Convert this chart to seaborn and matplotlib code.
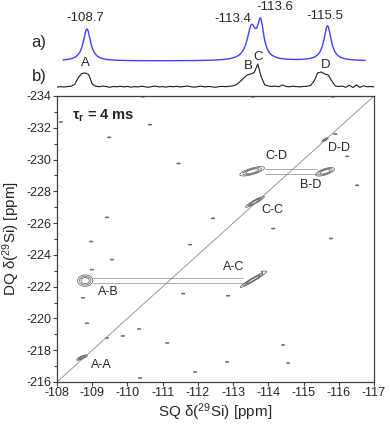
import numpy as np
import matplotlib
matplotlib.use("Agg")
import matplotlib.pyplot as plt
from matplotlib.ticker import MultipleLocator
import seaborn as sns

# 1D 29Si spectrum a) - peak positions [ppm], heights and widths
a_labels = ["-108.7", "-113.4", "-113.6", "-115.5"]
a_pos = [-108.85, -113.52, -113.78, -115.68]
a_height = [32, 31, 35, 35]
a_fwhm = [0.25, 0.30, 0.22, 0.25]

# 1D spectrum b) - trace read every 0.1 ppm from -107.9 to -117.0
b_trace = [0.3, -0.2, 0.4, 0.0, 0.5, 0.8, 2.5, 9.0, 13.5, 14.0,
           12.5, 3.0, 0.8, 0.3, 0.9, 0.4, -0.3, 0.5, 0.2, 0.7,
           0.1, 0.6, -0.2, 0.4, 0.0, 0.8, 0.2, -0.3, 0.5, 0.9,
           0.1, 0.4, -0.1, 0.6, 0.2, 0.7, 0.0, 0.5, 1.0, 0.3,
           -0.2, 0.4, 0.8, 0.1, 0.5, 0.2, -0.3, 0.4, 0.6, 0.3,
           0.8, 1.2, 2.5, 5.5, 9.0, 12.0, 13.0, 14.5, 23.0, 10.0,
           2.0, 1.0, 0.6, 0.9, 0.3, 2.0, 0.6, 0.2, 0.9, 0.4,
           0.1, 0.6, 0.8, 1.5, 6.0, 14.0, 15.0, 13.0, 12.0, 6.0,
           1.0, 0.5, 0.9, -0.3, 1.8, -0.5, 2.0, -0.4, 1.2, 0.2,
           0.5, 0.1]
b_letters = ["A", "B", "C", "D"]

# 2D DQ-SQ correlation peaks
cross_labels = ["A-A", "A-B", "A-C", "C-C", "C-D", "B-D", "D-D"]
cross_sq = [-108.71, -108.80, -113.57, -113.62, -113.54, -115.61, -115.61]
cross_dq = [-217.54, -222.38, -222.45, -227.34, -229.26, -229.23, -231.25]
cross_amp = [0.8, 1.0, 1.0, 1.0, 1.0, 1.0, 0.6]
cross_wsq = [0.08, 0.105, 0.18, 0.13, 0.17, 0.13, 0.05]
cross_wdq = [0.05, 0.175, 0.06, 0.06, 0.10, 0.10, 0.04]
cross_slope = [0.93, 0.0, 1.3, 1.2, 0.6, 0.65, 1.25]

# small noise contours scattered over the map
noise_sq = [-108.11, -110.44, -109.48, -110.64, -111.45, -109.42, -108.97,
            -109.56, -108.99, -108.74, -108.85, -109.42, -111.78, -111.58,
            -112.86, -110.33, -109.87, -111.13, -112.83, -111.92, -110.36,
            -114.42, -114.56, -112.43, -114.14, -115.78, -116.52, -116.24,
            -115.90, -115.84, -113.57, -113.85]
noise_dq = [-232.36, -233.95, -231.40, -232.20, -229.75, -226.36, -224.84,
            -223.70, -223.07, -221.30, -219.70, -218.77, -224.65, -221.56,
            -221.43, -219.34, -218.90, -218.46, -217.26, -216.63, -216.25,
            -218.33, -217.20, -226.30, -225.66, -225.03, -228.38, -230.20,
            -231.60, -233.95, -233.95, -222.95]

# double lines joining cross peaks on the same DQ row
link_sq_from = [-109.02, -113.91]
link_sq_to = [-113.28, -115.38]
link_dq_a = [-222.57, -229.39]
link_dq_b = [-222.25, -229.07]

sq_limits = [-108, -117]
dq_limits = [-216, -234]

sns.set_style("ticks")
plt.rcParams["font.family"] = ["Liberation Sans", "DejaVu Sans"]
plt.rcParams["axes.unicode_minus"] = False
plt.rcParams["mathtext.fontset"] = "custom"
plt.rcParams["mathtext.rm"] = "Liberation Sans"
plt.rcParams["mathtext.bf"] = "Liberation Sans:bold"

fig = plt.figure(figsize=(3.9, 4.29), dpi=100)
ax = fig.add_axes([57 / 390, 1 - 382 / 429, 317 / 390, 286 / 429])
top = fig.add_axes([57 / 390, 1 - 92 / 429, 317 / 390, 92 / 429])

# --- 2D map ---
sq_grid = np.linspace(-117, -108, 601)
dq_grid = np.linspace(-234, -216, 901)
S, D = np.meshgrid(sq_grid, dq_grid)
Z = np.zeros_like(S)
for sq, dq, amp, wsq, wdq, k in zip(cross_sq, cross_dq, cross_amp,
                                    cross_wsq, cross_wdq, cross_slope):
    dS = S - sq
    dD = D - dq - k * dS
    Z += amp * np.exp(-0.5 * (dS / wsq) ** 2 - 0.5 * (dD / wdq) ** 2)
for sq, dq in zip(noise_sq, noise_dq):
    Z += 0.2 * np.exp(-0.5 * ((S - sq) / 0.05) ** 2 - 0.5 * ((D - dq) / 0.03) ** 2)

ax.contour(S, D, Z, levels=[0.12, 0.3, 0.55], colors="#555555", linewidths=0.5)

diag_sq = np.array(sq_limits, dtype=float)
sns.lineplot(x=diag_sq, y=2 * diag_sq, ax=ax, color="#8a8a8a", lw=0.6)

for x0, x1, y0, y1 in zip(link_sq_from, link_sq_to, link_dq_a, link_dq_b):
    ax.plot([x0, x1], [y0, y0], color="#8a8a8a", lw=0.5)
    ax.plot([x0, x1], [y1, y1], color="#8a8a8a", lw=0.5)

label_off = [(-0.55, 0.45), (-0.65, 0.7), (0.55, -0.8), (-0.5, 0.5),
             (-0.7, -0.95), (0.4, 0.8), (-0.4, 0.5)]
for lab, sq, dq, (dx, dy) in zip(cross_labels, cross_sq, cross_dq, label_off):
    ax.text(sq + dx, dq + dy, lab, fontsize=9, ha="center", va="center")

ax.text(-108.43, -232.75, r"$\mathbf{\tau_r}$ = 4 ms", fontsize=10.5,
        fontweight="bold", ha="left", va="center")

ax.set_xlim(sq_limits)
ax.set_ylim(dq_limits)
ax.set_xticks(np.arange(-108, -118, -1))
ax.set_yticks(np.arange(-234, -215, 2))
ax.yaxis.set_minor_locator(MultipleLocator(1))
ax.tick_params(which="major", direction="out", length=3.2, width=0.8,
               labelsize=9, pad=0.5, color="#404040")
ax.tick_params(which="minor", direction="out", length=2.0, width=0.8, color="#404040")
for s in ax.spines.values():
    s.set_color("#404040")
    s.set_linewidth(0.9)
ax.set_xlabel(r"SQ δ($\mathregular{^{29}}$Si) [ppm]", fontsize=11)
ax.set_ylabel(r"DQ δ($\mathregular{^{29}}$Si) [ppm]", fontsize=11)
ax.xaxis.set_label_coords(0.5, -0.068)
ax.yaxis.set_label_coords(-0.11, 0.5)

# --- 1D spectra on top ---
ppm_a = np.linspace(-108.17, -116.75, 900)
spec_a = np.zeros_like(ppm_a)
for p, h, w in zip(a_pos, a_height, a_fwhm):
    spec_a += h / (1 + ((ppm_a - p) / (w / 2)) ** 2)
sns.lineplot(x=ppm_a, y=spec_a + 31, ax=top, color="#4040ff", lw=1.0,
             sort=False, estimator=None)

ppm_b = np.linspace(-107.9, -117.0, len(b_trace))
sns.lineplot(x=ppm_b, y=np.array(b_trace) + 5, ax=top, color="#1a1a1a",
             lw=0.8, sort=False, estimator=None)

a_text_xy = [(-108.8, 74), (-113.0, 73), (-114.19, 85), (-115.61, 76)]
for lab, (x, y) in zip(a_labels, a_text_xy):
    top.text(x, y, lab, fontsize=9.5, ha="center", va="center")
b_text_xy = [(-108.8, 29), (-113.43, 26), (-113.71, 35), (-115.64, 27)]
for lab, (x, y) in zip(b_letters, b_text_xy):
    top.text(x, y, lab, fontsize=9.5, ha="center", va="center")

top.set_xlim(sq_limits)
top.set_ylim(0, 92)
top.axis("off")

fig.text(39 / 390, 1 - 43 / 429, "a)", fontsize=12, ha="center", va="center")
fig.text(39 / 390, 1 - 76 / 429, "b)", fontsize=12, ha="center", va="center")

fig.savefig("out.png", dpi=100)
